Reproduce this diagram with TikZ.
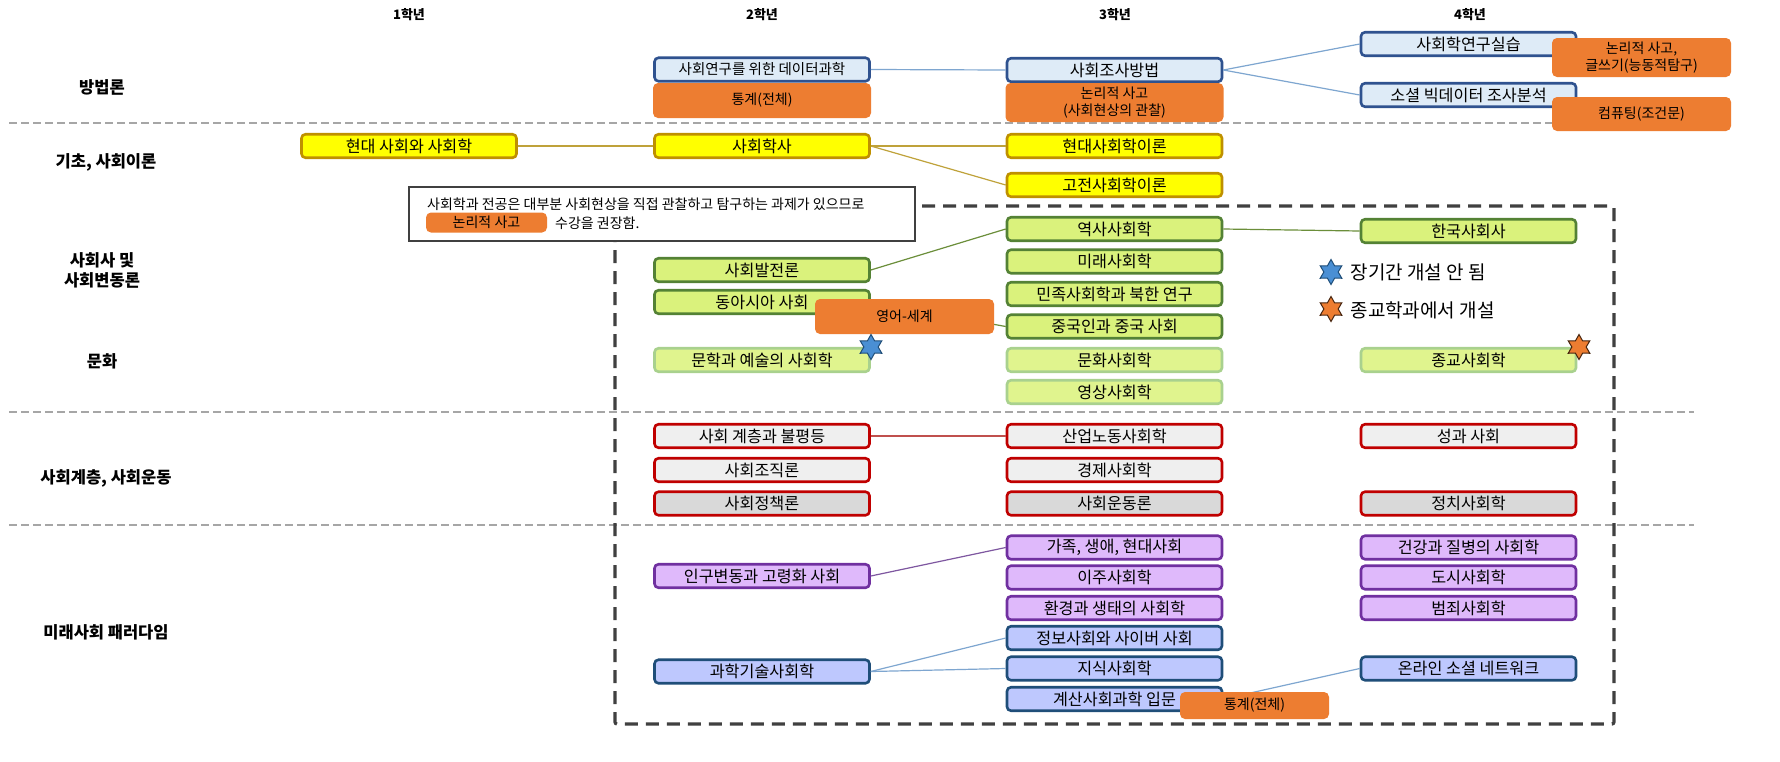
\documentclass[tikz,border=0pt]{standalone}
\usepackage{fontspec}
\setmainfont{Noto Sans CJK KR}
\usetikzlibrary{shapes.geometric}
\definecolor{mbluef}{HTML}{DEEBF7}
\definecolor{mblueb}{HTML}{2F528F}
\definecolor{morange}{HTML}{ED7D31}
\definecolor{myelf}{HTML}{FFFF00}
\definecolor{myelb}{HTML}{BF9000}
\definecolor{mgrf}{HTML}{DAF27C}
\definecolor{mgrb}{HTML}{548235}
\definecolor{mlgf}{HTML}{E0F48E}
\definecolor{mlgb}{HTML}{A9D18E}
\definecolor{mredf}{HTML}{EFEFEF}
\definecolor{mredd}{HTML}{D9D9D9}
\definecolor{mredb}{HTML}{C00000}
\definecolor{mpurf}{HTML}{DFB9FB}
\definecolor{mpurb}{HTML}{7030A0}
\definecolor{mperf}{HTML}{BEC8FE}
\definecolor{mperb}{HTML}{1F4E79}
\definecolor{lblue}{HTML}{7EA6D0}
\definecolor{lgold}{HTML}{BFA23A}
\definecolor{lgreen}{HTML}{6B8E3A}
\definecolor{lred}{HTML}{C0504D}
\definecolor{lpur}{HTML}{7E57A0}
\definecolor{sepgray}{HTML}{A6A6A6}
\definecolor{rectgray}{HTML}{404040}
\definecolor{starblue}{HTML}{4A8FD4}
\begin{document}
\begin{tikzpicture}[x=1pt,y=-1pt,
  box/.style={rounded corners=4pt, line width=2.6pt, minimum width=215pt, minimum height=23.5pt, inner sep=0pt, font=\fontsize{16.2}{18}\selectfont},
  bluebox/.style={box, draw=mblueb, fill=mbluef},
  yelbox/.style={box, draw=myelb, fill=myelf},
  grbox/.style={box, draw=mgrb, fill=mgrf},
  lgbox/.style={box, draw=mlgb, fill=mlgf},
  redbox/.style={box, draw=mredb, fill=mredf},
  reddbox/.style={box, draw=mredb, fill=mredd},
  purbox/.style={box, draw=mpurb, fill=mpurf},
  perbox/.style={box, draw=mperb, fill=mperf},
  obox/.style={rounded corners=5pt, fill=morange, inner sep=0pt, align=center, font=\fontsize{14}{17.5}\selectfont},
  rowlabel/.style={font=\fontsize{16.5}{20}\selectfont\bfseries, align=center},
  head/.style={font=\fontsize{13}{15}\selectfont\bfseries},
  sep/.style={sepgray, line width=1.3pt, dash pattern=on 8pt off 4pt},
  conn/.style={line width=1.2pt},
  hexstar/.style={star, star points=6, star point ratio=1.75, minimum size=25pt, inner sep=0pt, line width=1pt},
  legtext/.style={font=\fontsize{19}{22}\selectfont, anchor=west}
]
\useasboundingbox (0,0) rectangle (1780,761);
\fill[white] (0,0) rectangle (1780,761);

% headings
\node[head] (h1) at (409,15) {1학년};
\node[head] (h2) at (762,15) {2학년};
\node[head] (h3) at (1115,15) {3학년};
\node[head] (h4) at (1470,15) {4학년};

% row labels
\node[rowlabel] (r1) at (102,87) {방법론};
\node[rowlabel] (r2) at (106,162) {기초, 사회이론};
\node[rowlabel] (r3) at (102,270) {사회사 및\\사회변동론};
\node[rowlabel] (r4) at (102,361) {문화};
\node[rowlabel] (r5) at (106,478) {사회계층, 사회운동};
\node[rowlabel] (r6) at (106,632) {미래사회 패러다임};

% separators
\draw[sep] (9,123) -- (1694,123);
\draw[sep] (9,412) -- (1694,412);
\draw[sep] (9,525) -- (1694,525);

% big dashed rectangle
\draw[rectgray, line width=3.2pt, dash pattern=on 13pt off 8pt, rounded corners=2pt] (615,206) rectangle (1614,724);

% boxes: methodology
\node[bluebox, font=\fontsize{14.5}{16}\selectfont] (dsci) at (762,69.5) {사회연구를 위한 데이터과학};
\node[bluebox] (survey) at (1114.5,70) {사회조사방법};
\node[bluebox] (prac) at (1468.5,44) {사회학연구실습};
\node[bluebox] (bigdata) at (1468.5,95) {소셜 빅데이터 조사분석};

% foundations
\node[yelbox] (modern) at (409,146) {현대 사회와 사회학};
\node[yelbox] (shist) at (762,146) {사회학사};
\node[yelbox] (modth) at (1114.5,146) {현대사회학이론};
\node[yelbox] (clth) at (1114.5,185) {고전사회학이론};

% social history
\node[grbox] (yeoksa) at (1114.5,229) {역사사회학};
\node[grbox] (korea) at (1468.5,231) {한국사회사};
\node[grbox] (mirae) at (1114.5,261.5) {미래사회학};
\node[grbox] (minjok) at (1114.5,294) {민족사회학과 북한 연구};
\node[grbox] (china) at (1114.5,326.5) {중국인과 중국 사회};
\node[grbox] (baljeon) at (762,270) {사회발전론};
\node[grbox] (east) at (762,302) {동아시아 사회};
\node[lgbox] (munsa) at (1114.5,360) {문화사회학};
\node[lgbox] (yeongsang) at (1114.5,392) {영상사회학};
\node[lgbox] (jonggyo) at (1468.5,360) {종교사회학};
\node[lgbox] (munhak) at (762,360) {문학과 예술의 사회학};

% stratification
\node[redbox] (ineq) at (762,436) {사회 계층과 불평등};
\node[redbox] (org) at (762,470) {사회조직론};
\node[reddbox] (policy) at (762,503.5) {사회정책론};
\node[redbox] (labor) at (1114.5,436) {산업노동사회학};
\node[redbox] (econ) at (1114.5,470) {경제사회학};
\node[reddbox] (move) at (1114.5,503.5) {사회운동론};
\node[redbox] (gender) at (1468.5,436) {성과 사회};
\node[reddbox] (polit) at (1468.5,503.5) {정치사회학};

% future
\node[purbox] (pop) at (762,576) {인구변동과 고령화 사회};
\node[purbox] (fam) at (1114.5,547.5) {가족, 생애, 현대사회};
\node[purbox] (migr) at (1114.5,577.5) {이주사회학};
\node[purbox] (env) at (1114.5,608) {환경과 생태의 사회학};
\node[purbox] (health) at (1468.5,547.5) {건강과 질병의 사회학};
\node[purbox] (urban) at (1468.5,577.5) {도시사회학};
\node[purbox] (crime) at (1468.5,608) {범죄사회학};
\node[perbox] (sts) at (762,671.5) {과학기술사회학};
\node[perbox] (info) at (1114.5,638) {정보사회와 사이버 사회};
\node[perbox] (know) at (1114.5,668.5) {지식사회학};
\node[perbox] (comp2) at (1114.5,699) {계산사회과학 입문};
\node[perbox] (online) at (1468.5,668.5) {온라인 소셜 네트워크};

% connectors
\draw[conn, lblue] (dsci.east) -- (survey.west);
\draw[conn, lblue] (survey.east) -- (prac.west);
\draw[conn, lblue] (survey.east) -- (bigdata.west);
\draw[conn, lgold] (modern.east) -- (shist.west);
\draw[conn, lgold] (shist.east) -- (modth.west);
\draw[conn, lgold] (shist.east) -- (clth.west);
\draw[conn, lgreen] (baljeon.east) -- (yeoksa.west);
\draw[conn, lgreen] (yeoksa.east) -- (korea.west);
\draw[conn, lgreen] (east.east) -- (china.west);
\draw[conn, lred] (ineq.east) -- (labor.west);
\draw[conn, lpur] (pop.east) -- (fam.west);
\draw[conn, lblue] (sts.east) -- (info.west);
\draw[conn, lblue] (sts.east) -- (know.west);
\draw[conn, lblue] (comp2.east) -- (online.west);

% orange boxes
\node[obox, minimum width=218pt, minimum height=35pt] (stat1) at (762,100.5) {통계(전체)};
\node[obox, minimum width=218pt, minimum height=39pt] (logic1) at (1114.5,102.5) {논리적 사고\\(사회현상의 관찰)};
\node[obox, minimum width=179pt, minimum height=39pt] (logic2) at (1641.5,57.5) {논리적 사고,\\글쓰기(능동적탐구)};
\node[obox, minimum width=179pt, minimum height=34pt] (comp) at (1641.5,114) {컴퓨팅(조건문)};
\node[obox, minimum width=179pt, minimum height=35pt] (eng) at (904.5,316.5) {영어-세계};
\node[obox, minimum width=149pt, minimum height=27pt] (stat2) at (1254.5,705.5) {통계(전체)};

% note box
\node[draw=rectgray, line width=1.2pt, fill=white, minimum width=506pt, minimum height=54pt, inner sep=0pt] (note) at (662,214) {};
\node[anchor=west, font=\fontsize{14}{16}\selectfont, inner sep=0pt] (notel1) at (427,204) {사회학과 전공은 대부분 사회현상을 직접 관찰하고 탐구하는 과제가 있으므로};
\node[obox, minimum width=121pt, minimum height=20pt] (notebox) at (486.5,222.5) {논리적 사고};
\node[anchor=west, font=\fontsize{14}{16}\selectfont, inner sep=0pt] (notel2) at (555,223) {수강을 권장함.};

% stars
\node[hexstar, fill=starblue, draw=mperb] (s1) at (871,347) {};
\node[hexstar, fill=morange, draw=black!70!morange] (s2) at (1579,347) {};
\node[hexstar, fill=starblue, draw=mperb] (ls1) at (1331,272) {};
\node[legtext] (lt1) at (1347,272) {장기간 개설 안 됨};
\node[hexstar, fill=morange, draw=black!70!morange] (ls2) at (1331,309) {};
\node[legtext] (lt2) at (1347,310) {종교학과에서 개설};
\end{tikzpicture}
\end{document}
